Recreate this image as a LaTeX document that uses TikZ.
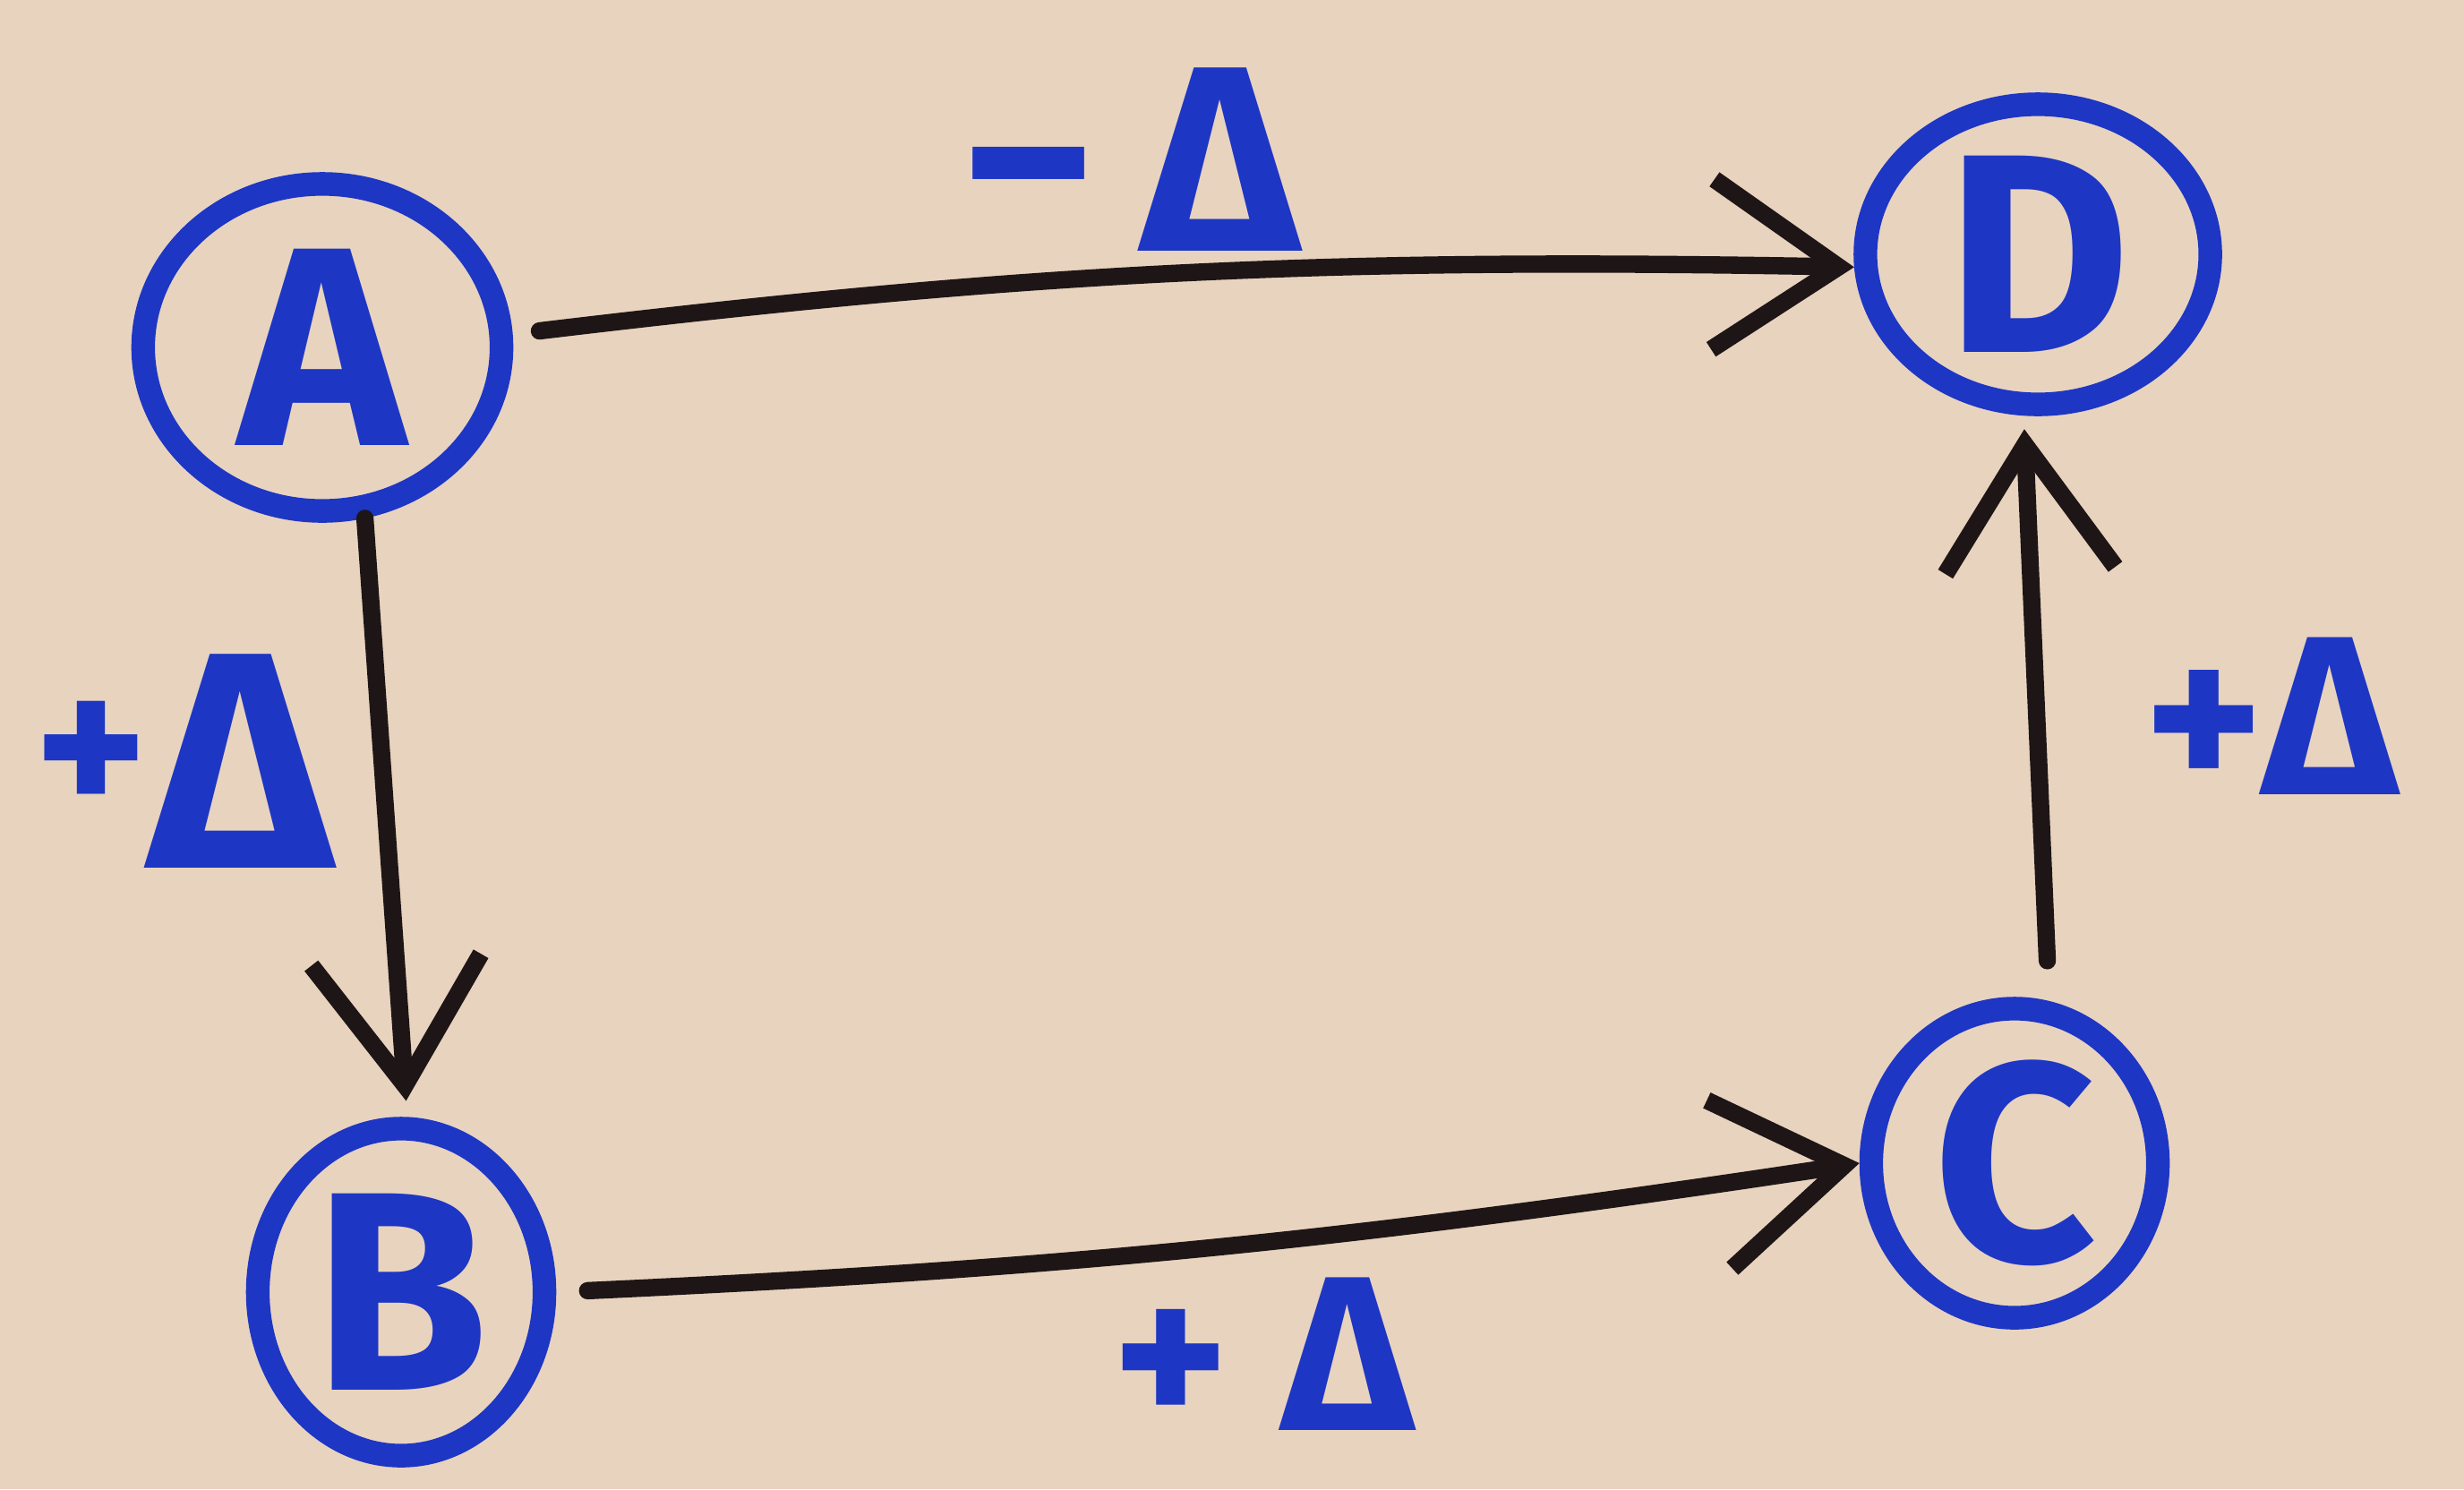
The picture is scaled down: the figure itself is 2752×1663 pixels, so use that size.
\documentclass[tikz,border=0pt]{standalone}
\usepackage{fontspec}
\setmainfont{Fira Sans}
\usetikzlibrary{arrows.meta,shapes.geometric,bending}
\definecolor{paper}{HTML}{E8D3BF}
\definecolor{ink}{HTML}{1D36C4}
\definecolor{pen}{HTML}{1E1616}
\begin{document}
\begin{tikzpicture}[x=0.01cm,y=-0.01cm,
  state/.style={ellipse, draw=ink, line width=7.5pt, text=ink, inner sep=0pt,
    font=\fontsize{90}{90}\selectfont\bfseries},
  link/.style={draw=pen, line width=5.5pt, line cap=round,
    -{Straight Barb[length=40pt,width=54pt,line width=5.5pt]}},
  delta/.style={text=ink, inner sep=0pt, font=\bfseries}]
\fill[paper] (0,0) rectangle (2752,1663);
\useasboundingbox (0,0) rectangle (2752,1663);
\node[state, minimum width=4.0cm, minimum height=3.65cm] (A) at (360,388) {A};
\node[state, minimum width=3.2cm, minimum height=3.65cm] (B) at (448,1443) {B};
\node[state, minimum width=3.2cm, minimum height=3.45cm] (C) at (2250,1299) {C};
\node[state, minimum width=3.85cm, minimum height=3.35cm] (D) at (2276,284) {D};
\draw[link, shorten <=0.3cm] (A.4) to[bend left=4] (D.184);
\draw[link, shorten >=0.18cm] (A.-76) -- (B.88);
\draw[link, shorten <=0.35cm] (B.0) to[bend right=3] (C.180);
\draw[link, shorten <=0.45cm, shorten >=0.15cm] (C.78) -- (D.-95);
\node[delta] (l1) at (1262,178) {\fontsize{84}{84}\selectfont −\,Δ};
\node[delta] (l2) at (205,850) {\raisebox{0.55cm}{\fontsize{68}{68}\selectfont +}\fontsize{98}{98}\selectfont Δ};
\node[delta] (l3) at (1411,1512) {\fontsize{70}{70}\selectfont + Δ};
\node[delta] (l4) at (2536,800) {\fontsize{72}{72}\selectfont +Δ};
\end{tikzpicture}
\end{document}
